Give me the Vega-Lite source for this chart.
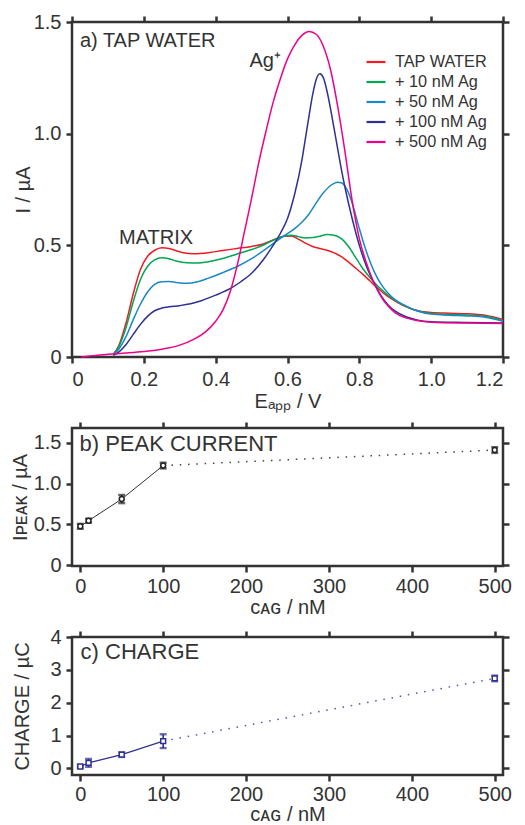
{
  "$schema": "https://vega.github.io/schema/vega-lite/v6.json",
  "padding": {"left": 8, "top": 10, "right": 5, "bottom": 0},
  "background": "white",
  "spacing": 71,
  "bounds": "flush",
  "config": {
    "font": "Liberation Sans",
    "view": {"stroke": "#333333", "strokeWidth": 2.5},
    "axis": {
      "domain": false, "grid": false,
      "tickColor": "#333333", "tickWidth": 2.5, "tickSize": 6,
      "labelFont": "Liberation Sans", "labelFontSize": 20, "labelColor": "#333333", "labelPadding": 4,
      "titleFont": "Liberation Sans", "titleFontSize": 20, "titleFontWeight": "normal", "titleColor": "#333333"
    }
  },
  "datasets": {
    "curves": [
      {"s":"TAP WATER","E":0.115,"I":0.012},{"s":"TAP WATER","E":0.13,"I":0.05},{"s":"TAP WATER","E":0.15,"I":0.15},{"s":"TAP WATER","E":0.17,"I":0.28},{"s":"TAP WATER","E":0.19,"I":0.39},{"s":"TAP WATER","E":0.21,"I":0.45},{"s":"TAP WATER","E":0.23,"I":0.478},{"s":"TAP WATER","E":0.25,"I":0.489},{"s":"TAP WATER","E":0.27,"I":0.486},{"s":"TAP WATER","E":0.29,"I":0.476},{"s":"TAP WATER","E":0.31,"I":0.467},{"s":"TAP WATER","E":0.34,"I":0.462},{"s":"TAP WATER","E":0.38,"I":0.467},{"s":"TAP WATER","E":0.42,"I":0.477},{"s":"TAP WATER","E":0.46,"I":0.486},{"s":"TAP WATER","E":0.5,"I":0.495},{"s":"TAP WATER","E":0.53,"I":0.505},{"s":"TAP WATER","E":0.56,"I":0.524},{"s":"TAP WATER","E":0.59,"I":0.541},{"s":"TAP WATER","E":0.61,"I":0.542},{"s":"TAP WATER","E":0.63,"I":0.528},{"s":"TAP WATER","E":0.65,"I":0.51},{"s":"TAP WATER","E":0.67,"I":0.495},{"s":"TAP WATER","E":0.69,"I":0.486},{"s":"TAP WATER","E":0.71,"I":0.478},{"s":"TAP WATER","E":0.73,"I":0.466},{"s":"TAP WATER","E":0.75,"I":0.449},{"s":"TAP WATER","E":0.77,"I":0.425},{"s":"TAP WATER","E":0.79,"I":0.398},{"s":"TAP WATER","E":0.81,"I":0.37},{"s":"TAP WATER","E":0.83,"I":0.34},{"s":"TAP WATER","E":0.85,"I":0.31},{"s":"TAP WATER","E":0.87,"I":0.283},{"s":"TAP WATER","E":0.89,"I":0.26},{"s":"TAP WATER","E":0.92,"I":0.232},{"s":"TAP WATER","E":0.95,"I":0.213},{"s":"TAP WATER","E":1.0,"I":0.199},{"s":"TAP WATER","E":1.05,"I":0.196},{"s":"TAP WATER","E":1.1,"I":0.194},{"s":"TAP WATER","E":1.15,"I":0.187},{"s":"TAP WATER","E":1.2,"I":0.168},
      {"s":"+ 10 nM Ag","E":0.115,"I":0.012},{"s":"+ 10 nM Ag","E":0.13,"I":0.045},{"s":"+ 10 nM Ag","E":0.15,"I":0.13},{"s":"+ 10 nM Ag","E":0.17,"I":0.245},{"s":"+ 10 nM Ag","E":0.19,"I":0.345},{"s":"+ 10 nM Ag","E":0.21,"I":0.405},{"s":"+ 10 nM Ag","E":0.23,"I":0.435},{"s":"+ 10 nM Ag","E":0.25,"I":0.444},{"s":"+ 10 nM Ag","E":0.27,"I":0.44},{"s":"+ 10 nM Ag","E":0.29,"I":0.43},{"s":"+ 10 nM Ag","E":0.32,"I":0.422},{"s":"+ 10 nM Ag","E":0.35,"I":0.421},{"s":"+ 10 nM Ag","E":0.38,"I":0.427},{"s":"+ 10 nM Ag","E":0.42,"I":0.441},{"s":"+ 10 nM Ag","E":0.46,"I":0.461},{"s":"+ 10 nM Ag","E":0.5,"I":0.481},{"s":"+ 10 nM Ag","E":0.53,"I":0.499},{"s":"+ 10 nM Ag","E":0.56,"I":0.523},{"s":"+ 10 nM Ag","E":0.59,"I":0.541},{"s":"+ 10 nM Ag","E":0.61,"I":0.545},{"s":"+ 10 nM Ag","E":0.63,"I":0.539},{"s":"+ 10 nM Ag","E":0.65,"I":0.533},{"s":"+ 10 nM Ag","E":0.67,"I":0.535},{"s":"+ 10 nM Ag","E":0.69,"I":0.541},{"s":"+ 10 nM Ag","E":0.71,"I":0.548},{"s":"+ 10 nM Ag","E":0.73,"I":0.545},{"s":"+ 10 nM Ag","E":0.75,"I":0.53},{"s":"+ 10 nM Ag","E":0.77,"I":0.495},{"s":"+ 10 nM Ag","E":0.79,"I":0.445},{"s":"+ 10 nM Ag","E":0.81,"I":0.395},{"s":"+ 10 nM Ag","E":0.83,"I":0.355},{"s":"+ 10 nM Ag","E":0.85,"I":0.32},{"s":"+ 10 nM Ag","E":0.87,"I":0.29},{"s":"+ 10 nM Ag","E":0.89,"I":0.265},{"s":"+ 10 nM Ag","E":0.92,"I":0.235},{"s":"+ 10 nM Ag","E":0.95,"I":0.213},{"s":"+ 10 nM Ag","E":1.0,"I":0.195},{"s":"+ 10 nM Ag","E":1.05,"I":0.19},{"s":"+ 10 nM Ag","E":1.1,"I":0.188},{"s":"+ 10 nM Ag","E":1.15,"I":0.182},{"s":"+ 10 nM Ag","E":1.2,"I":0.162},
      {"s":"+ 50 nM Ag","E":0.115,"I":0.01},{"s":"+ 50 nM Ag","E":0.13,"I":0.035},{"s":"+ 50 nM Ag","E":0.15,"I":0.09},{"s":"+ 50 nM Ag","E":0.17,"I":0.165},{"s":"+ 50 nM Ag","E":0.19,"I":0.235},{"s":"+ 50 nM Ag","E":0.21,"I":0.29},{"s":"+ 50 nM Ag","E":0.23,"I":0.325},{"s":"+ 50 nM Ag","E":0.25,"I":0.337},{"s":"+ 50 nM Ag","E":0.27,"I":0.338},{"s":"+ 50 nM Ag","E":0.29,"I":0.334},{"s":"+ 50 nM Ag","E":0.32,"I":0.33},{"s":"+ 50 nM Ag","E":0.35,"I":0.337},{"s":"+ 50 nM Ag","E":0.38,"I":0.353},{"s":"+ 50 nM Ag","E":0.42,"I":0.378},{"s":"+ 50 nM Ag","E":0.46,"I":0.405},{"s":"+ 50 nM Ag","E":0.5,"I":0.44},{"s":"+ 50 nM Ag","E":0.53,"I":0.473},{"s":"+ 50 nM Ag","E":0.56,"I":0.508},{"s":"+ 50 nM Ag","E":0.59,"I":0.542},{"s":"+ 50 nM Ag","E":0.62,"I":0.575},{"s":"+ 50 nM Ag","E":0.64,"I":0.603},{"s":"+ 50 nM Ag","E":0.66,"I":0.64},{"s":"+ 50 nM Ag","E":0.68,"I":0.69},{"s":"+ 50 nM Ag","E":0.7,"I":0.735},{"s":"+ 50 nM Ag","E":0.72,"I":0.768},{"s":"+ 50 nM Ag","E":0.74,"I":0.783},{"s":"+ 50 nM Ag","E":0.75,"I":0.78},{"s":"+ 50 nM Ag","E":0.76,"I":0.765},{"s":"+ 50 nM Ag","E":0.77,"I":0.735},{"s":"+ 50 nM Ag","E":0.78,"I":0.69},{"s":"+ 50 nM Ag","E":0.8,"I":0.575},{"s":"+ 50 nM Ag","E":0.82,"I":0.47},{"s":"+ 50 nM Ag","E":0.84,"I":0.387},{"s":"+ 50 nM Ag","E":0.86,"I":0.327},{"s":"+ 50 nM Ag","E":0.88,"I":0.285},{"s":"+ 50 nM Ag","E":0.9,"I":0.256},{"s":"+ 50 nM Ag","E":0.93,"I":0.228},{"s":"+ 50 nM Ag","E":0.96,"I":0.207},{"s":"+ 50 nM Ag","E":1.0,"I":0.192},{"s":"+ 50 nM Ag","E":1.05,"I":0.187},{"s":"+ 50 nM Ag","E":1.1,"I":0.184},{"s":"+ 50 nM Ag","E":1.15,"I":0.178},{"s":"+ 50 nM Ag","E":1.2,"I":0.16},
      {"s":"+ 100 nM Ag","E":0.115,"I":0.008},{"s":"+ 100 nM Ag","E":0.13,"I":0.022},{"s":"+ 100 nM Ag","E":0.15,"I":0.055},{"s":"+ 100 nM Ag","E":0.17,"I":0.1},{"s":"+ 100 nM Ag","E":0.19,"I":0.145},{"s":"+ 100 nM Ag","E":0.21,"I":0.182},{"s":"+ 100 nM Ag","E":0.23,"I":0.207},{"s":"+ 100 nM Ag","E":0.25,"I":0.219},{"s":"+ 100 nM Ag","E":0.27,"I":0.225},{"s":"+ 100 nM Ag","E":0.3,"I":0.23},{"s":"+ 100 nM Ag","E":0.33,"I":0.238},{"s":"+ 100 nM Ag","E":0.36,"I":0.252},{"s":"+ 100 nM Ag","E":0.4,"I":0.277},{"s":"+ 100 nM Ag","E":0.44,"I":0.306},{"s":"+ 100 nM Ag","E":0.47,"I":0.337},{"s":"+ 100 nM Ag","E":0.5,"I":0.375},{"s":"+ 100 nM Ag","E":0.53,"I":0.43},{"s":"+ 100 nM Ag","E":0.56,"I":0.5},{"s":"+ 100 nM Ag","E":0.58,"I":0.553},{"s":"+ 100 nM Ag","E":0.6,"I":0.62},{"s":"+ 100 nM Ag","E":0.62,"I":0.73},{"s":"+ 100 nM Ag","E":0.64,"I":0.88},{"s":"+ 100 nM Ag","E":0.65,"I":0.98},{"s":"+ 100 nM Ag","E":0.66,"I":1.08},{"s":"+ 100 nM Ag","E":0.67,"I":1.175},{"s":"+ 100 nM Ag","E":0.68,"I":1.243},{"s":"+ 100 nM Ag","E":0.69,"I":1.268},{"s":"+ 100 nM Ag","E":0.7,"I":1.25},{"s":"+ 100 nM Ag","E":0.71,"I":1.19},{"s":"+ 100 nM Ag","E":0.72,"I":1.11},{"s":"+ 100 nM Ag","E":0.73,"I":1.02},{"s":"+ 100 nM Ag","E":0.74,"I":0.93},{"s":"+ 100 nM Ag","E":0.75,"I":0.84},{"s":"+ 100 nM Ag","E":0.76,"I":0.76},{"s":"+ 100 nM Ag","E":0.78,"I":0.62},{"s":"+ 100 nM Ag","E":0.8,"I":0.5},{"s":"+ 100 nM Ag","E":0.82,"I":0.405},{"s":"+ 100 nM Ag","E":0.84,"I":0.335},{"s":"+ 100 nM Ag","E":0.86,"I":0.276},{"s":"+ 100 nM Ag","E":0.88,"I":0.233},{"s":"+ 100 nM Ag","E":0.9,"I":0.205},{"s":"+ 100 nM Ag","E":0.93,"I":0.18},{"s":"+ 100 nM Ag","E":0.96,"I":0.166},{"s":"+ 100 nM Ag","E":1.0,"I":0.158},{"s":"+ 100 nM Ag","E":1.1,"I":0.155},{"s":"+ 100 nM Ag","E":1.2,"I":0.152},
      {"s":"+ 500 nM Ag","E":0.025,"I":0.0},{"s":"+ 500 nM Ag","E":0.05,"I":0.005},{"s":"+ 500 nM Ag","E":0.1,"I":0.012},{"s":"+ 500 nM Ag","E":0.15,"I":0.018},{"s":"+ 500 nM Ag","E":0.2,"I":0.025},{"s":"+ 500 nM Ag","E":0.25,"I":0.035},{"s":"+ 500 nM Ag","E":0.3,"I":0.053},{"s":"+ 500 nM Ag","E":0.34,"I":0.08},{"s":"+ 500 nM Ag","E":0.37,"I":0.11},{"s":"+ 500 nM Ag","E":0.4,"I":0.16},{"s":"+ 500 nM Ag","E":0.42,"I":0.21},{"s":"+ 500 nM Ag","E":0.44,"I":0.29},{"s":"+ 500 nM Ag","E":0.46,"I":0.41},{"s":"+ 500 nM Ag","E":0.48,"I":0.56},{"s":"+ 500 nM Ag","E":0.5,"I":0.71},{"s":"+ 500 nM Ag","E":0.52,"I":0.87},{"s":"+ 500 nM Ag","E":0.54,"I":1.01},{"s":"+ 500 nM Ag","E":0.56,"I":1.14},{"s":"+ 500 nM Ag","E":0.58,"I":1.245},{"s":"+ 500 nM Ag","E":0.6,"I":1.335},{"s":"+ 500 nM Ag","E":0.62,"I":1.398},{"s":"+ 500 nM Ag","E":0.64,"I":1.44},{"s":"+ 500 nM Ag","E":0.66,"I":1.458},{"s":"+ 500 nM Ag","E":0.68,"I":1.445},{"s":"+ 500 nM Ag","E":0.7,"I":1.39},{"s":"+ 500 nM Ag","E":0.72,"I":1.285},{"s":"+ 500 nM Ag","E":0.74,"I":1.12},{"s":"+ 500 nM Ag","E":0.76,"I":0.92},{"s":"+ 500 nM Ag","E":0.78,"I":0.7},{"s":"+ 500 nM Ag","E":0.8,"I":0.53},{"s":"+ 500 nM Ag","E":0.82,"I":0.42},{"s":"+ 500 nM Ag","E":0.84,"I":0.335},{"s":"+ 500 nM Ag","E":0.86,"I":0.272},{"s":"+ 500 nM Ag","E":0.88,"I":0.228},{"s":"+ 500 nM Ag","E":0.9,"I":0.198},{"s":"+ 500 nM Ag","E":0.93,"I":0.175},{"s":"+ 500 nM Ag","E":0.96,"I":0.163},{"s":"+ 500 nM Ag","E":1.0,"I":0.156},{"s":"+ 500 nM Ag","E":1.1,"I":0.152},{"s":"+ 500 nM Ag","E":1.2,"I":0.15}
    ],
    "labelsA": [
      {"E":0.022,"I":1.386,"t":"a) TAP WATER"},
      {"E":0.494,"I":1.3,"t":"Ag⁺"},
      {"E":0.131,"I":0.504,"t":"MATRIX"}
    ],
    "peak": [
      {"c":0,"I":0.476,"err":0.03},{"c":10,"I":0.545,"err":0.025},{"c":50,"I":0.81,"err":0.05},{"c":100,"I":1.22,"err":0.035},{"c":500,"I":1.41,"err":0.035}
    ],
    "charge": [
      {"c":0,"Q":0.06,"err":0.04},{"c":10,"Q":0.17,"err":0.12},{"c":50,"Q":0.42,"err":0.07},{"c":100,"Q":0.83,"err":0.21},{"c":500,"Q":2.74,"err":0.085}
    ],
    "labelB": [{"c":-1,"I":1.4,"t":"b) PEAK CURRENT"}],
    "labelC": [{"c":0.4,"Q":3.34,"t":"c) CHARGE"}]
  },
  "vconcat": [
    {
      "width": 431, "height": 335,
      "layer": [
        {
          "data": {"name": "curves"},
          "mark": {"type": "line", "strokeWidth": 1.5, "interpolate": "monotone"},
          "encoding": {
            "x": {"field": "E", "type": "quantitative", "scale": {"domain": [0, 1.2], "nice": false, "zero": false},
                  "axis": {"values": [0, 0.2, 0.4, 0.6, 0.8, 1.0, 1.2], "labelExpr": "datum.value == 0 ? '0' : format(datum.value, '.1f')", "title": "Eₐₚₚ / V", "labelPadding": 6, "titlePadding": 2}},
            "y": {"field": "I", "type": "quantitative", "scale": {"domain": [0, 1.5], "nice": false},
                  "axis": {"values": [0, 0.5, 1.0, 1.5], "labelExpr": "datum.value == 0 ? '0' : format(datum.value, '.1f')", "title": "I / µA", "labelPadding": 5, "titlePadding": 0}},
            "color": {"field": "s", "type": "nominal",
                      "scale": {"domain": ["TAP WATER", "+ 10 nM Ag", "+ 50 nM Ag", "+ 100 nM Ag", "+ 500 nM Ag"],
                                "range": ["#ed1c24", "#00a651", "#1b87c5", "#2e3192", "#ec008c"]},
                      "sort": ["TAP WATER", "+ 10 nM Ag", "+ 50 nM Ag", "+ 100 nM Ag", "+ 500 nM Ag"],
                      "legend": {"title": null, "orient": "none", "legendX": 293, "legendY": 29,
                                 "symbolType": "stroke", "symbolSize": 361, "symbolStrokeWidth": 2.2,
                                 "labelFont": "Liberation Sans", "labelFontSize": 16.3, "labelColor": "#333333",
                                 "rowPadding": 0, "labelOffset": 8}}
          }
        },
        {
          "data": {"name": "labelsA"},
          "mark": {"type": "text", "align": "left", "baseline": "alphabetic", "fontSize": 20, "color": "#333333", "font": "Liberation Sans"},
          "encoding": {
            "x": {"field": "E", "type": "quantitative", "scale": {"domain": [0, 1.2], "nice": false, "zero": false},
                  "axis": {"orient": "top", "values": [0, 0.2, 0.4, 0.6, 0.8, 1.0, 1.2], "labels": false, "title": null}},
            "y": {"field": "I", "type": "quantitative", "scale": {"domain": [0, 1.5], "nice": false},
                  "axis": {"orient": "right", "values": [0, 0.5, 1.0, 1.5], "labels": false, "title": null}},
            "text": {"field": "t"}
          }
        }
      ],
      "resolve": {"axis": {"x": "independent", "y": "independent"}}
    },
    {
      "width": 431, "height": 138,
      "layer": [
        {
          "data": {"name": "peak"},
          "transform": [{"filter": "datum.c <= 100"}],
          "mark": {"type": "line", "color": "#333333", "strokeWidth": 1},
          "encoding": {
            "x": {"field": "c", "type": "quantitative", "scale": {"domain": [-10, 510], "nice": false, "zero": false},
                  "axis": {"values": [0, 100, 200, 300, 400, 500], "title": "cᴀɢ / nM", "labelPadding": 4, "titlePadding": 1}},
            "y": {"field": "I", "type": "quantitative", "scale": {"domain": [-0.01, 1.68], "nice": false, "zero": false},
                  "axis": {"values": [0, 0.5, 1.0, 1.5], "labelExpr": "datum.value == 0 ? '0' : format(datum.value, '.1f')", "title": "Iᴘᴇᴀᴋ / µA", "labelPadding": 5, "titlePadding": 3}}
          }
        },
        {
          "data": {"name": "peak"},
          "transform": [{"filter": "datum.c >= 100"}],
          "mark": {"type": "line", "color": "#444444", "strokeWidth": 1.5, "strokeDash": [1.5, 6.8]},
          "encoding": {
            "x": {"field": "c", "type": "quantitative", "axis": null},
            "y": {"field": "I", "type": "quantitative", "axis": null}
          }
        },
        {
          "data": {"name": "peak"},
          "mark": {"type": "errorbar", "color": "#222222", "ticks": {"size": 7, "thickness": 2.4}, "rule": {"strokeWidth": 1.6}},
          "encoding": {
            "x": {"field": "c", "type": "quantitative", "axis": null},
            "y": {"field": "I", "type": "quantitative", "axis": null},
            "yError": {"field": "err"}
          }
        },
        {
          "data": {"name": "peak"},
          "mark": {"type": "point", "shape": "circle", "size": 24, "filled": false, "fill": "white", "fillOpacity": 1, "stroke": "#222222", "strokeWidth": 1.5, "opacity": 1},
          "encoding": {
            "x": {"field": "c", "type": "quantitative", "axis": null},
            "y": {"field": "I", "type": "quantitative", "axis": null}
          }
        },
        {
          "data": {"name": "labelB"},
          "mark": {"type": "text", "align": "left", "baseline": "alphabetic", "fontSize": 22, "color": "#333333", "font": "Liberation Sans"},
          "encoding": {
            "x": {"field": "c", "type": "quantitative", "axis": {"orient": "top", "values": [0, 100, 200, 300, 400, 500], "labels": false, "title": null}},
            "y": {"field": "I", "type": "quantitative", "axis": {"orient": "right", "values": [0, 0.5, 1.0, 1.5], "labels": false, "title": null}},
            "text": {"field": "t"}
          }
        }
      ],
      "resolve": {"axis": {"x": "independent", "y": "independent"}}
    },
    {
      "width": 431, "height": 138,
      "layer": [
        {
          "data": {"name": "charge"},
          "transform": [{"filter": "datum.c <= 100"}],
          "mark": {"type": "line", "color": "#2e3192", "strokeWidth": 1.2},
          "encoding": {
            "x": {"field": "c", "type": "quantitative", "scale": {"domain": [-10, 510], "nice": false, "zero": false},
                  "axis": {"values": [0, 100, 200, 300, 400, 500], "title": "cᴀɢ / nM", "labelPadding": 3, "titlePadding": 0}},
            "y": {"field": "Q", "type": "quantitative", "scale": {"domain": [-0.2, 4], "nice": false, "zero": false},
                  "axis": {"values": [0, 1, 2, 3, 4], "title": "CHARGE / µC", "labelPadding": 5, "titlePadding": 17}}
          }
        },
        {
          "data": {"name": "charge"},
          "transform": [{"filter": "datum.c >= 100"}],
          "mark": {"type": "line", "color": "#5055b8", "strokeWidth": 1.5, "strokeDash": [1.5, 6.8]},
          "encoding": {
            "x": {"field": "c", "type": "quantitative", "axis": null},
            "y": {"field": "Q", "type": "quantitative", "axis": null}
          }
        },
        {
          "data": {"name": "charge"},
          "mark": {"type": "errorbar", "color": "#2e3192", "ticks": {"size": 7, "thickness": 2.4}, "rule": {"strokeWidth": 1.6}},
          "encoding": {
            "x": {"field": "c", "type": "quantitative", "axis": null},
            "y": {"field": "Q", "type": "quantitative", "axis": null},
            "yError": {"field": "err"}
          }
        },
        {
          "data": {"name": "charge"},
          "mark": {"type": "point", "shape": "square", "size": 24, "filled": false, "fill": "white", "fillOpacity": 1, "stroke": "#2e3192", "strokeWidth": 1.5, "opacity": 1},
          "encoding": {
            "x": {"field": "c", "type": "quantitative", "axis": null},
            "y": {"field": "Q", "type": "quantitative", "axis": null}
          }
        },
        {
          "data": {"name": "labelC"},
          "mark": {"type": "text", "align": "left", "baseline": "alphabetic", "fontSize": 22, "color": "#333333", "font": "Liberation Sans"},
          "encoding": {
            "x": {"field": "c", "type": "quantitative", "axis": {"orient": "top", "values": [0, 100, 200, 300, 400, 500], "labels": false, "title": null}},
            "y": {"field": "Q", "type": "quantitative", "axis": {"orient": "right", "values": [0, 1, 2, 3, 4], "labels": false, "title": null}},
            "text": {"field": "t"}
          }
        }
      ],
      "resolve": {"axis": {"x": "independent", "y": "independent"}}
    }
  ]
}
